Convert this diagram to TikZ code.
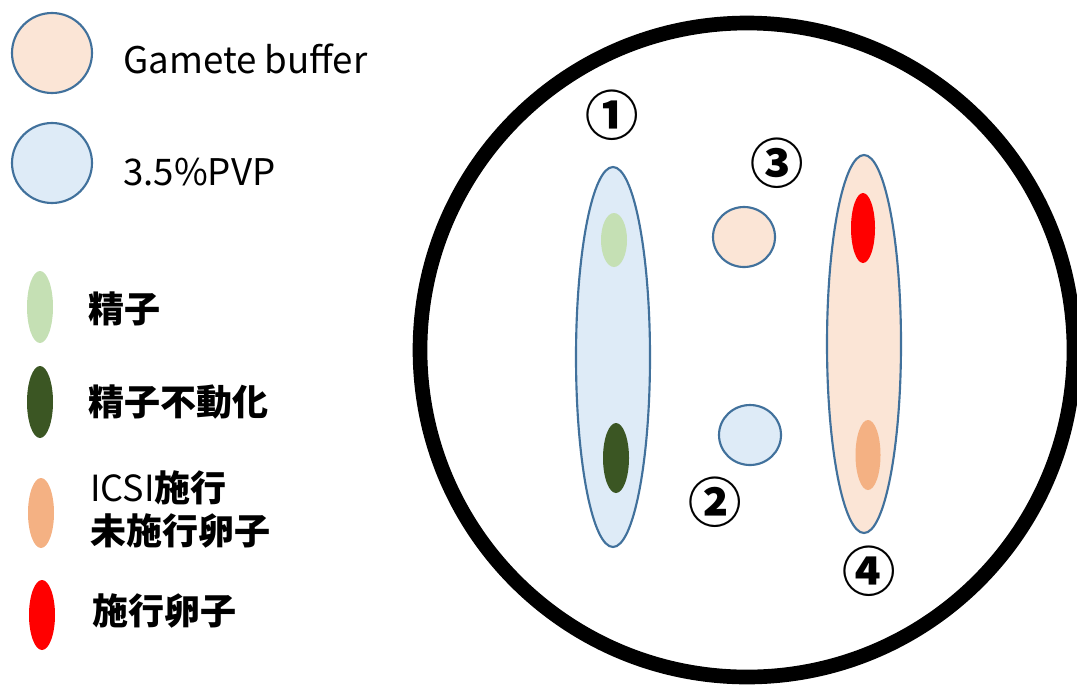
\documentclass[tikz,border=0pt]{standalone}
\usepackage{fontspec}
\setmainfont{Noto Sans CJK JP}
\newfontfamily\jpfont{Noto Sans CJK JP}
\definecolor{edgeblue}{HTML}{41719C}
\definecolor{peach}{HTML}{FBE5D6}
\definecolor{paleblue}{HTML}{DEEBF7}
\definecolor{spermgreen}{HTML}{C5E0B4}
\definecolor{darkgreen}{HTML}{3B5623}
\definecolor{eggorange}{HTML}{F4B183}
\begin{document}
\begin{tikzpicture}[x=0.75pt,y=-0.75pt,
  medium/.style={draw=edgeblue,line width=1.6pt},
  lbl/.style={anchor=base west,inner sep=0pt,font=\jpfont\bfseries\fontsize{27}{33}\selectfont},
  latin/.style={anchor=base west,inner sep=0pt,font=\jpfont\fontsize{27.5}{33}\selectfont},
  num/.style={inner sep=0pt,font=\jpfont\bfseries\fontsize{40}{42}\selectfont}
]
\useasboundingbox (0,0) rectangle (1077,686);

% dish
\draw[line width=11pt] (747,350) circle [radius=327];

% legend: media
\path[medium,fill=peach] (52,53) circle [radius=40];
\path[medium,fill=paleblue] (52,163) circle [radius=40];
\node[latin] (lgbuf) at (123,73) {Gamete buffer};
\node[latin] (lgpvp) at (123,185) {3.5\%PVP};

% legend: cells
\fill[spermgreen] (40,307) ellipse [x radius=13, y radius=36];
\fill[darkgreen] (40,402) ellipse [x radius=13, y radius=36];
\fill[eggorange] (41,513) ellipse [x radius=13, y radius=35];
\fill[red] (42,615) ellipse [x radius=13, y radius=35];
\node[lbl] (lgsp) at (88,322) {精子};
\node[lbl] (lgim) at (88,415) {精子不動化};
\node[lbl] (lgun1) at (90,501) {{\mdseries ICSI}施行};
\node[lbl] (lgun2) at (90,544) {未施行卵子};
\node[lbl] (lgdone) at (92,624) {施行卵子};

% drop 1: PVP with sperm
\path[medium,fill=paleblue] (613,357) ellipse [x radius=37, y radius=190];
\fill[spermgreen] (614,240) ellipse [x radius=13, y radius=27];
\fill[darkgreen] (616,458) ellipse [x radius=13, y radius=35];
\node[num] (n1) at (612,115) {①};

% drops 2 and 3: small wash drops
\path[medium,fill=paleblue] (750,435) ellipse [x radius=31, y radius=30];
\node[num] (n2) at (715,502) {②};
\path[medium,fill=peach] (744,237) ellipse [x radius=31, y radius=30];
\node[num] (n3) at (777,163) {③};

% drop 4: buffer with oocytes
\path[medium,fill=peach] (864,344) ellipse [x radius=37, y radius=189];
\fill[red] (863,228) ellipse [x radius=12, y radius=35];
\fill[eggorange] (868,455) ellipse [x radius=12.5, y radius=35];
\node[num] (n4) at (869,571) {④};
\end{tikzpicture}
\end{document}
